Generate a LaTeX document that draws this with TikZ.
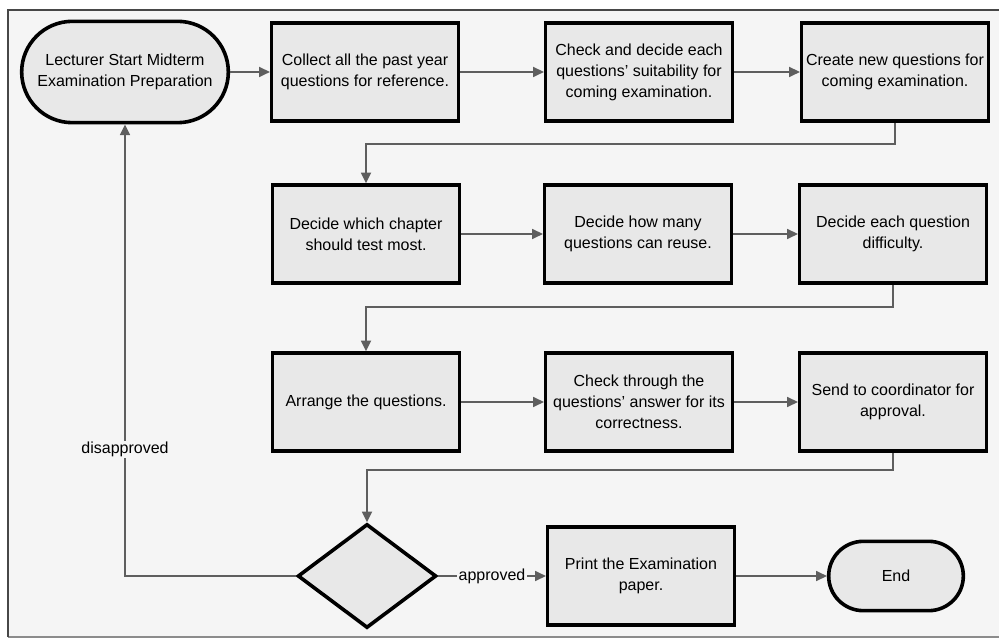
\documentclass[tikz,border=0pt]{standalone}
\usepackage{fontspec}
\setmainfont{Liberation Sans}
\usetikzlibrary{shapes.geometric,shapes.misc,arrows.meta}
\definecolor{bgc}{HTML}{F5F5F5}
\definecolor{boxc}{HTML}{E8E8E8}
\definecolor{linec}{HTML}{5E5E5E}
\begin{document}
\begin{tikzpicture}[x=0.75pt,y=-0.75pt,
  txt/.style={font=\fontsize{12}{15.75}\selectfont},
  box/.style={txt,draw=black,line width=2.7pt,fill=boxc,minimum width=140pt,minimum height=73.5pt,align=center,inner sep=2pt},
  term/.style={box,rounded rectangle,rounded rectangle arc length=180},
  decbox/.style={draw=black,line width=2.7pt,fill=boxc,diamond,minimum width=104pt,minimum height=78pt,inner sep=0pt},
  conn/.style={draw=linec,line width=1.3pt,-{Triangle[length=8pt,width=7.5pt]}},
  lbl/.style={txt,fill=bgc,inner sep=1pt,text=black}]
\useasboundingbox (0,0) rectangle (999,641);
\fill[white] (0,0) rectangle (999,641);
\fill[bgc] (8,10) rectangle (999,637);
\draw[black!45,line width=1pt] (8,637) -- (999,637);
\draw[black!72,line width=2.2pt] (8,637) -- (8,10) -- (999,10);

% row 1
\node[term,minimum width=159pt,minimum height=76pt] (start) at (125,72) {Lecturer Start Midterm\\Examination Preparation};
\node[box] (collect) at (365,72) {Collect all the past year\\questions for reference.};
\node[box] (check) at (639,72) {Check and decide each\\questions' suitability for\\coming examination.};
\node[box] (create) at (895,72) {Create new questions for\\coming examination.};
% row 2
\node[box] (chapter) at (366,234) {Decide which chapter\\should test most.};
\node[box] (howmany) at (638,234) {Decide how many\\questions can reuse.};
\node[box] (difficulty) at (893,234) {Decide each question\\difficulty.};
% row 3
\node[box] (arrange) at (366,402) {Arrange the questions.};
\node[box] (through) at (639,402) {Check through the\\questions' answer for its\\correctness.};
\node[box] (send) at (893,402) {Send to coordinator for\\approval.};
% row 4
\node[decbox] (dec) at (367,576) {};
\node[box] (print) at (641,576) {Print the Examination\\paper.};
\node[term,minimum width=105pt,minimum height=52pt] (fin) at (896,576) {End};

% connectors
\draw[conn] (start) -- (collect);
\draw[conn] (collect) -- (check);
\draw[conn] (check) -- (create);
\draw[conn] (create.south) -- ++(0,21) -| (chapter.north);
\draw[conn] (chapter) -- (howmany);
\draw[conn] (howmany) -- (difficulty);
\draw[conn] (difficulty.south) -- ++(0,22) -| (arrange.north);
\draw[conn] (arrange) -- (through);
\draw[conn] (through) -- (send);
\draw[conn] (send.south) -- ++(0,17) -| (dec.north);
\draw[conn] (dec.west) -| node[lbl,pos=0.64] {disapproved} (start.south);
\draw[conn] (dec.east) -- node[lbl] {approved} (print.west);
\draw[conn] (print) -- (fin);
\end{tikzpicture}
\end{document}
